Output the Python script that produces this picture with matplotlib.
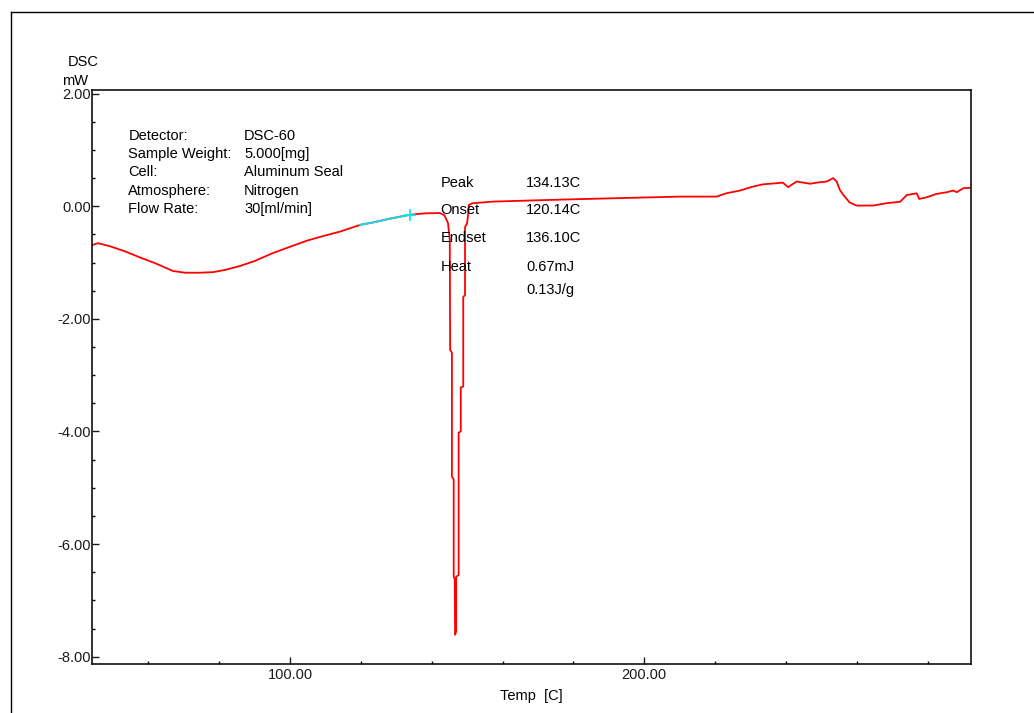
import matplotlib
matplotlib.use("Agg")
import matplotlib.pyplot as plt
from matplotlib.lines import Line2D
from matplotlib.ticker import MultipleLocator, FormatStrFormatter

temp_c = [
    44.2, 45.8, 49.2, 53.4, 57.7, 61.9, 67.0, 70.4, 74.6, 78.3,
    81.7, 85.9, 90.1, 95.2, 100.0, 104.8, 109.3, 114.1, 119.8, 124.0,
    128.2, 133.9, 138.1, 142.3,
    # pico endotérmico (lado de descida)
    143.6, 144.6, 145.1, 145.2, 145.7, 145.7, 146.2, 146.2, 146.5, 146.6,
    # pico (lado de subida)
    146.9, 146.9, 147.6, 147.6, 148.2, 148.2, 148.9, 148.9, 149.4, 149.4,
    150.0, 150.3, 150.5, 151.6,
    157.3, 170.6, 181.0, 193.0, 210.1,
    220.4, 223.3, 227.0, 230.7, 233.5, 237.4, 239.1, 240.6, 243.0, 246.8,
    248.7, 251.5, 253.3, 254.3, 255.2, 256.2, 258.0, 259.9, 264.6, 268.4,
    272.2, 274.1, 276.9, 277.6, 279.7, 282.5, 285.4, 287.2, 288.2, 290.0,
    292.2,
]
dsc_mw = [
    -0.69, -0.655, -0.71, -0.80, -0.91, -1.01, -1.15, -1.18, -1.18, -1.17,
    -1.13, -1.06, -0.97, -0.83, -0.72, -0.61, -0.53, -0.45, -0.33, -0.28,
    -0.22, -0.15, -0.125, -0.12,
    -0.16, -0.30, -0.60, -2.55, -2.60, -4.80, -4.85, -6.58, -6.62, -7.61,
    -7.55, -6.58, -6.55, -4.02, -4.00, -3.22, -3.20, -1.61, -1.58, -0.37,
    -0.30, -0.12, 0.025, 0.055,
    0.083, 0.108, 0.126, 0.145, 0.172,
    0.172, 0.233, 0.279, 0.35, 0.39, 0.41, 0.42, 0.34, 0.44, 0.40,
    0.42, 0.44, 0.50, 0.44, 0.29, 0.20, 0.066, 0.013, 0.013, 0.055,
    0.08, 0.20, 0.23, 0.13, 0.16, 0.22, 0.25, 0.28, 0.25, 0.32,
    0.33,
]
# faixa destacada em ciano (linha de base)
baseline_range = (119.8, 133.9)

info_labels = ["Detector:", "Sample Weight:", "Cell:", "Atmosphere:", "Flow Rate:"]
info_values = ["DSC-60", "5.000[mg]", "Aluminum Seal", "Nitrogen", "30[ml/min]"]
peak_labels = ["Peak", "Onset", "Endset", "Heat", ""]
peak_values = ["134.13C", "120.14C", "136.10C", "0.67mJ", "0.13J/g"]

W, H = 1034, 713
FONT = "Liberation Sans"
FS = 10.5
plt.rcParams["font.family"] = [FONT, "DejaVu Sans"]


def px(x, y):
    """Converte pixels da imagem para coordenadas da figura."""
    return x / W, 1 - y / H


fig = plt.figure(figsize=(W / 100, H / 100), dpi=100)
ax = fig.add_axes([92.3 / W, 1 - 664.3 / H, (971.3 - 92.3) / W, (664.3 - 90.3) / H])

ax.plot(temp_c, dsc_mw, color="#ff0000", lw=1.3)
seg = [(t, v) for t, v in zip(temp_c, dsc_mw) if baseline_range[0] <= t <= baseline_range[1]]
ax.plot([s[0] for s in seg], [s[1] for s in seg], color="#00e5ee", lw=1.3)
ax.plot([seg[-1][0]], [seg[-1][1]], marker="+", color="#00e5ee", ms=8, mew=1.2)

ax.set_xlim(44.2, 292.3)
ax.set_ylim(-8.135, 2.06)
ax.xaxis.set_major_locator(MultipleLocator(100))
ax.xaxis.set_minor_locator(MultipleLocator(20))
ax.yaxis.set_major_locator(MultipleLocator(2))
ax.yaxis.set_minor_locator(MultipleLocator(0.5))
ax.xaxis.set_major_formatter(FormatStrFormatter("%.2f"))
ax.yaxis.set_major_formatter(FormatStrFormatter("%.2f"))
ax.tick_params(which="major", direction="in", length=5, width=1, labelsize=FS,
               colors="#1a1a1a")
ax.tick_params(which="minor", direction="in", length=2.5, width=1)
ax.tick_params(axis="y", which="major", pad=1)
ax.tick_params(axis="x", which="major", pad=3)
for sp in ax.spines.values():
    sp.set_linewidth(1.2)
    sp.set_color("#111111")

ax.set_xlabel("Temp  [C]", fontsize=FS, labelpad=4.5)

# rótulos do eixo y
fig.text(*px(68, 62), "DSC", fontsize=FS, va="center", ha="left")
fig.text(*px(62, 81), "mW", fontsize=FS, va="center", ha="left")

# bloco de informações da amostra
for i, (lab, val) in enumerate(zip(info_labels, info_values)):
    y = 135.5 + i * 18.5
    fig.text(*px(128.3, y), lab, fontsize=FS, va="center", ha="left")
    fig.text(*px(244, y), val, fontsize=FS, va="center", ha="left")

# bloco de resultados do pico
peak_y = [183.3, 210, 238.3, 266.7, 290]
for lab, val, y in zip(peak_labels, peak_values, peak_y):
    if lab:
        fig.text(*px(440.7, y), lab, fontsize=FS, va="center", ha="left")
    fig.text(*px(526, y), val, fontsize=FS, va="center", ha="left")

# moldura externa
fig.add_artist(Line2D([11 / W, 11 / W], [0, 1 - 12 / H], color="k", lw=1))
fig.add_artist(Line2D([11 / W, 1], [1 - 12 / H, 1 - 12 / H], color="k", lw=1))

fig.savefig("out.png", dpi=100)
